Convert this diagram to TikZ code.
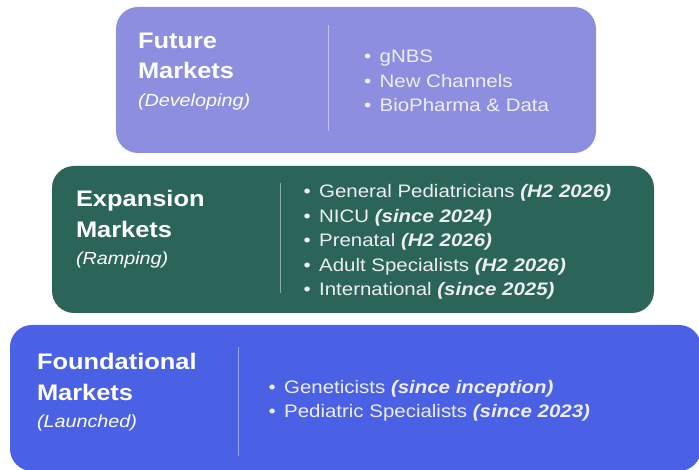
\documentclass[tikz,border=0pt]{standalone}
\usepackage{fontspec}
\setmainfont{Liberation Sans}[FakeStretch=1.13]
\usetikzlibrary{positioning}

\definecolor{futuro}{HTML}{8E8EE0}
\definecolor{expansion}{HTML}{2B655A}
\definecolor{fundacional}{HTML}{4A61E6}
\definecolor{textoclaro}{HTML}{EEEEF2}

\newcommand{\estado}[1]{{\fontsize{17.5}{24}\selectfont\mdseries\itshape #1}}
\newcommand{\fecha}[1]{\textbf{\textit{#1}}}
\newcommand{\punto}{\textbullet\hspace{8.5pt}}

\begin{document}
\begin{tikzpicture}[x=1pt, y=1pt,
    caja/.style={rectangle, rounded corners=22pt, inner sep=0pt},
    titulo/.style={inner sep=0pt, align=left, text=white, font=\fontsize{22.5}{30.5}\selectfont\bfseries},
    lista/.style={inner sep=0pt, align=left, text=textoclaro, font=\fontsize{18.1}{24.5}\selectfont},
    divisor/.style={draw=white, draw opacity=0.45, line width=1pt}]

    \useasboundingbox (0,0) rectangle (699,470);

    % Nodo para los mercados futuros
    \node (futuro) [caja, fill=futuro, minimum width=480pt, minimum height=146pt] at (356,390) {};
    \node (futuroTit) [titulo, below right=26pt and 22pt of futuro.north west]
    {Future\\Markets\\[-3pt]\estado{(Developing)}};
    \node (futuroLista) [lista, below right=43pt and 248pt of futuro.north west]
    {\punto gNBS\\ \punto New Channels\\ \punto BioPharma \& Data};
    \draw [divisor] ([shift={(212.5,-18)}]futuro.north west) -- ++(0,-106);

    % Nodo para los mercados en expansion
    \node (expansion) [caja, fill=expansion, minimum width=602pt, minimum height=147pt] at (353,230.5) {};
    \node (expansionTit) [titulo, below right=24.7pt and 24pt of expansion.north west]
    {Expansion\\Markets\\[-3pt]\estado{(Ramping)}};
    \node (expansionLista) [lista, below right=18.7pt and 251.5pt of expansion.north west]
    {\punto General Pediatricians \fecha{(H2 2026)}\\ \punto NICU \fecha{(since 2024)}\\
     \punto Prenatal \fecha{(H2 2026)}\\ \punto Adult Specialists \fecha{(H2 2026)}\\
     \punto International \fecha{(since 2025)}};
    \draw [divisor] ([shift={(229,-17)}]expansion.north west) -- ++(0,-110);

    % Nodo para los mercados fundacionales
    \node (fundacional) [caja, fill=fundacional, minimum width=691pt, minimum height=146pt] at (355.5,72) {};
    \node (fundacionalTit) [titulo, below right=28.3pt and 27pt of fundacional.north west]
    {Foundational\\Markets\\[-3pt]\estado{(Launched)}};
    \node (fundacionalLista) [lista, below right=55pt and 258.5pt of fundacional.north west]
    {\punto Geneticists \fecha{(since inception)}\\ \punto Pediatric Specialists \fecha{(since 2023)}};
    \draw [divisor] ([shift={(229,-22)}]fundacional.north west) -- ++(0,-109);

\end{tikzpicture}
\end{document}
